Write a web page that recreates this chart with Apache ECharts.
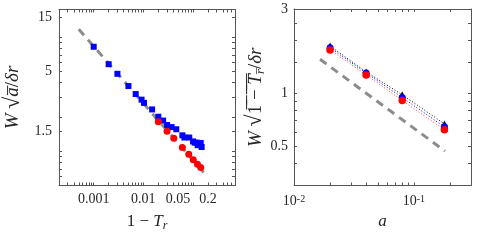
<!DOCTYPE html>
<html><head><meta charset="utf-8">
<script src="https://cdn.jsdelivr.net/npm/echarts@6/dist/echarts.min.js"></script>
<style>html,body{margin:0;padding:0;background:#fff}#c{width:481px;height:241px}</style>
</head><body><div id="c"></div>
<script>
// ---- Left panel data ----
const leftBlueX = [0.001,0.002,0.003,0.005,0.007,0.0092,0.0103,0.015,0.020,0.025,0.030,0.037,0.046,0.061,0.067,0.084,0.100,0.108,0.119,0.124,0.143,0.149];
const leftBlueY = [8.28,5.82,4.79,3.74,3.18,2.84,2.66,2.33,2.01,1.86,1.70,1.63,1.56,1.38,1.32,1.32,1.22,1.19,1.19,1.13,1.18,1.09];
const leftRedX = [0.020,0.030,0.041,0.061,0.082,0.101,0.123,0.143];
const leftRedY = [1.82,1.50,1.30,1.08,0.94,0.84,0.77,0.72];
const leftRefX = [0.0005,0.175];
const leftRefY = [11.8,0.63];
// ---- Right panel data ----
const rightA = [0.02,0.04,0.08,0.18];
const rightBlack = [1.85,1.32,0.98,0.67];
const rightBlue = [1.81,1.30,0.945,0.645];
const rightRed = [1.76,1.27,0.91,0.62];
const rightRefX = [0.0165,0.182];
const rightRefY = [1.556,0.47];
// ---- Tick labels ----
const leftXTicks = [0.001,0.01,0.05,0.2];
const leftXLabels = ['0.001','0.01','0.05','0.2'];
const leftYTicks = [1.5,5,15];
const leftYLabels = ['1.5','5','15'];
const rightXTicks = [0.01,0.1];
const rightXLabels = ['10{sup|-2}','10{sup|-1}'];
const rightYTicks = [0.5,1,3];
const rightYLabels = ['0.5','1','3'];
// ---- Axis limits ----
const leftXLim = [2e-4,0.7], leftYLim = [0.5,17.6];
const rightXLim = [0.01,0.3], rightYLim = [0.3,3];

const L = Math.log10;
function minorTicks(lim, extra){
  const out = [];
  for (let e=-5;e<=2;e++) for (let k=1;k<=9;k++){
    const v = k*Math.pow(10,e);
    if (v>=lim[0]*0.999 && v<=lim[1]*1.001) out.push(v);
  }
  return out.concat(extra||[]).map(L);
}
const FONT = 'Liberation Serif';
const AXC = '#555';
const TXC = '#262626';
function dispAxis(grid, lim, ticks, labels, position, showLabel, tickExtra, margin){
  return {
    type:'value', gridIndex:grid, min:L(lim[0]), max:L(lim[1]), position:position,
    axisLine:{show:true, onZero:false, lineStyle:{color:AXC, width:1}},
    axisTick:{show:true, inside:true, length:3, lineStyle:{color:AXC, width:1}, customValues: minorTicks(lim, tickExtra)},
    axisLabel:{show:showLabel, margin:margin, color:TXC, fontFamily:FONT, fontSize:14,
      customValues: ticks.map(L),
      formatter: function(v){ for (let i=0;i<ticks.length;i++){ if (Math.abs(L(ticks[i])-v)<1e-6) return labels[i]; } return ''; },
      rich:{sup:{fontFamily:FONT, fontSize:10, verticalAlign:'top', lineHeight:10, color:TXC}}
    },
    splitLine:{show:false}, z:5
  };
}
const xNameRich = {
  n:{fontFamily:FONT, fontSize:17, color:TXC, lineHeight:20},
  i:{fontFamily:FONT, fontSize:17, fontStyle:'italic', color:TXC, lineHeight:20},
  sub:{fontFamily:FONT, fontSize:12, fontStyle:'italic', color:TXC, verticalAlign:'bottom', lineHeight:12}
};
const yNameRich = {
  n:{fontFamily:FONT, fontSize:19, color:TXC, lineHeight:22},
  r:{fontFamily:FONT, fontSize:22, color:TXC, lineHeight:22},
  i:{fontFamily:FONT, fontSize:19, fontStyle:'italic', color:TXC, lineHeight:22},
  sub:{fontFamily:FONT, fontSize:13, fontStyle:'italic', color:TXC, verticalAlign:'bottom', lineHeight:13}
};
const pairs = (xs, ys) => xs.map((x,i)=>[x, ys[i]]);

const option = {
  animation:false,
  grid:[
    {left:59, top:9.5, width:176, height:176, containLabel:false},
    {left:294, top:9, width:177, height:176.5, containLabel:false}
  ],
  xAxis:[
    {type:'log', logBase:10, gridIndex:0, min:leftXLim[0], max:leftXLim[1], show:false},
    Object.assign(dispAxis(0,leftXLim,leftXTicks,leftXLabels,'bottom',true,[],7),
      {name:'{n|1 \u2212 }{i|T}{sub|r}', nameLocation:'middle', nameGap:26, nameTextStyle:{rich:xNameRich}}),
    dispAxis(0,leftXLim,leftXTicks,leftXLabels,'top',false,[],7),
    {type:'log', logBase:10, gridIndex:1, min:rightXLim[0], max:rightXLim[1], show:false},
    Object.assign(dispAxis(1,rightXLim,rightXTicks,rightXLabels,'bottom',true,[],9),
      {name:'{i|a}', nameLocation:'middle', nameGap:26, nameTextStyle:{rich:xNameRich}}),
    dispAxis(1,rightXLim,rightXTicks,rightXLabels,'top',false,[],7)
  ],
  yAxis:[
    {type:'log', logBase:10, gridIndex:0, min:leftYLim[0], max:leftYLim[1], show:false},
    Object.assign(dispAxis(0,leftYLim,leftYTicks,leftYLabels,'left',true,[1.5,15],7),
      {name:'{i|W }{r|\u221A}{i|a\u0305}{n|/}{i|\u03B4r}', nameLocation:'middle', nameGap:35, nameRotate:90, nameTextStyle:{rich:yNameRich}}),
    dispAxis(0,leftYLim,leftYTicks,leftYLabels,'right',false,[1.5,15],7),
    {type:'log', logBase:10, gridIndex:1, min:rightYLim[0], max:rightYLim[1], show:false},
    Object.assign(dispAxis(1,rightYLim,rightYTicks,rightYLabels,'left',true,[1.5,2.5],6),
      {name:'{i|W }{r|\u221A}{n|1\u0305 \u0305\u2212\u0305 \u0305}{i|T\u0305}{sub|r\u0305}{n|/}{i|\u03B4r}', nameLocation:'middle', nameGap:26, nameRotate:90, nameTextStyle:{rich:yNameRich}}),
    dispAxis(1,rightYLim,rightYTicks,rightYLabels,'right',false,[1.5,2.5],6)
  ],
  series:[
    {type:'line', xAxisIndex:0, yAxisIndex:0, data:pairs(leftRefX,leftRefY), showSymbol:false, symbol:'none',
      lineStyle:{color:'#8c8c8c', width:3, type:[8,6], cap:'butt'}, z:2},
    {type:'scatter', xAxisIndex:0, yAxisIndex:0, data:pairs(leftBlueX,leftBlueY), symbol:'rect', symbolSize:6,
      itemStyle:{color:'#0000ff', opacity:1}, z:3},
    {type:'scatter', xAxisIndex:0, yAxisIndex:0, data:pairs(leftRedX,leftRedY), symbol:'circle', symbolSize:7,
      itemStyle:{color:'#ff0000', opacity:1}, z:3},
    {type:'line', xAxisIndex:3, yAxisIndex:3, data:pairs(rightRefX,rightRefY), showSymbol:false, symbol:'none',
      lineStyle:{color:'#8c8c8c', width:3, type:[8,6], cap:'butt'}, z:2},
    {type:'line', xAxisIndex:3, yAxisIndex:3, data:pairs(rightA,rightBlack), symbol:'triangle', symbolSize:7, showSymbol:true,
      itemStyle:{color:'#000000'}, lineStyle:{color:'#000000', width:1, type:[1,2]}, z:3},
    {type:'line', xAxisIndex:3, yAxisIndex:3, data:pairs(rightA,rightBlue), symbol:'circle', symbolSize:7, showSymbol:true,
      itemStyle:{color:'#0000ff'}, lineStyle:{color:'#0000ff', width:1, type:[1,2]}, z:3},
    {type:'line', xAxisIndex:3, yAxisIndex:3, data:pairs(rightA,rightRed), symbol:'circle', symbolSize:7.5, showSymbol:true,
      itemStyle:{color:'#ff0000'}, lineStyle:{color:'#ff4040', width:1, type:[1,2]}, z:3}
  ]
};
const chart = echarts.init(document.getElementById('c'), null, {renderer:'canvas'});
chart.setOption(option);
</script></body></html>
